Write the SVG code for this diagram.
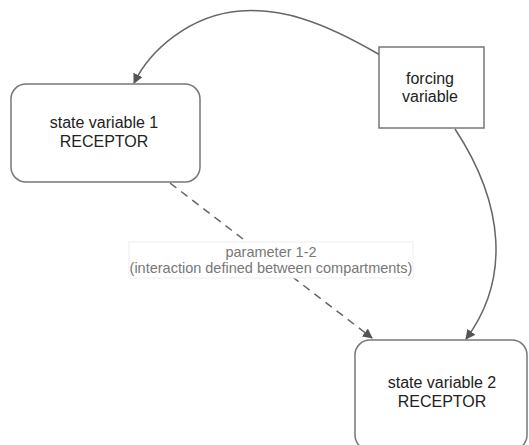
<svg xmlns="http://www.w3.org/2000/svg" width="529" height="445" viewBox="0 0 529 445">
<style>
.node{fill:#fff;stroke:#777;stroke-width:1.5}
.t{font-family:"Liberation Sans",Arial,sans-serif;font-size:16px;fill:#222;text-anchor:middle}
.lt{font-family:"Liberation Sans",Arial,sans-serif;font-size:14.5px;fill:#777;text-anchor:middle}
.c{fill:none;stroke:#666;stroke-width:1.5}
</style>
<defs>
<marker id="ah" viewBox="0 0 10 10" refX="9" refY="5" markerWidth="10" markerHeight="10" markerUnits="userSpaceOnUse" orient="auto">
<path d="M0,0 L10,5 L0,10 z" fill="#555"/>
</marker>
</defs>
<g id="connectors">
<path class="c" d="M380,55 C320,20 280,8 240,11 C190,15 150,50 134,83" marker-end="url(#ah)"/>
<path class="c" d="M455,129 C505,205 510,280 466,339" marker-end="url(#ah)"/>
<path class="c" d="M170,183 L372,338" stroke-dasharray="8,6" marker-end="url(#ah)"/>
</g>
<g id="label">
<rect x="129" y="242" width="284" height="36" fill="#fff" stroke="#eee" stroke-width="1"/>
<text class="lt" x="271" y="257">parameter 1-2</text>
<text class="lt" x="271" y="273">(interaction defined between compartments)</text>
</g>
<g id="sv1">
<rect class="node" x="11" y="84" width="189" height="98" rx="15"/>
<text class="t" x="104" y="128">state variable 1</text>
<text class="t" x="104" y="147">RECEPTOR</text>
</g>
<g id="forcing">
<rect class="node" x="379" y="47" width="105" height="81"/>
<text class="t" x="430" y="84">forcing</text>
<text class="t" x="430" y="102">variable</text>
</g>
<g id="sv2">
<rect class="node" x="355" y="340" width="172" height="110" rx="15"/>
<text class="t" x="442" y="388">state variable 2</text>
<text class="t" x="442" y="407">RECEPTOR</text>
</g>
</svg>
